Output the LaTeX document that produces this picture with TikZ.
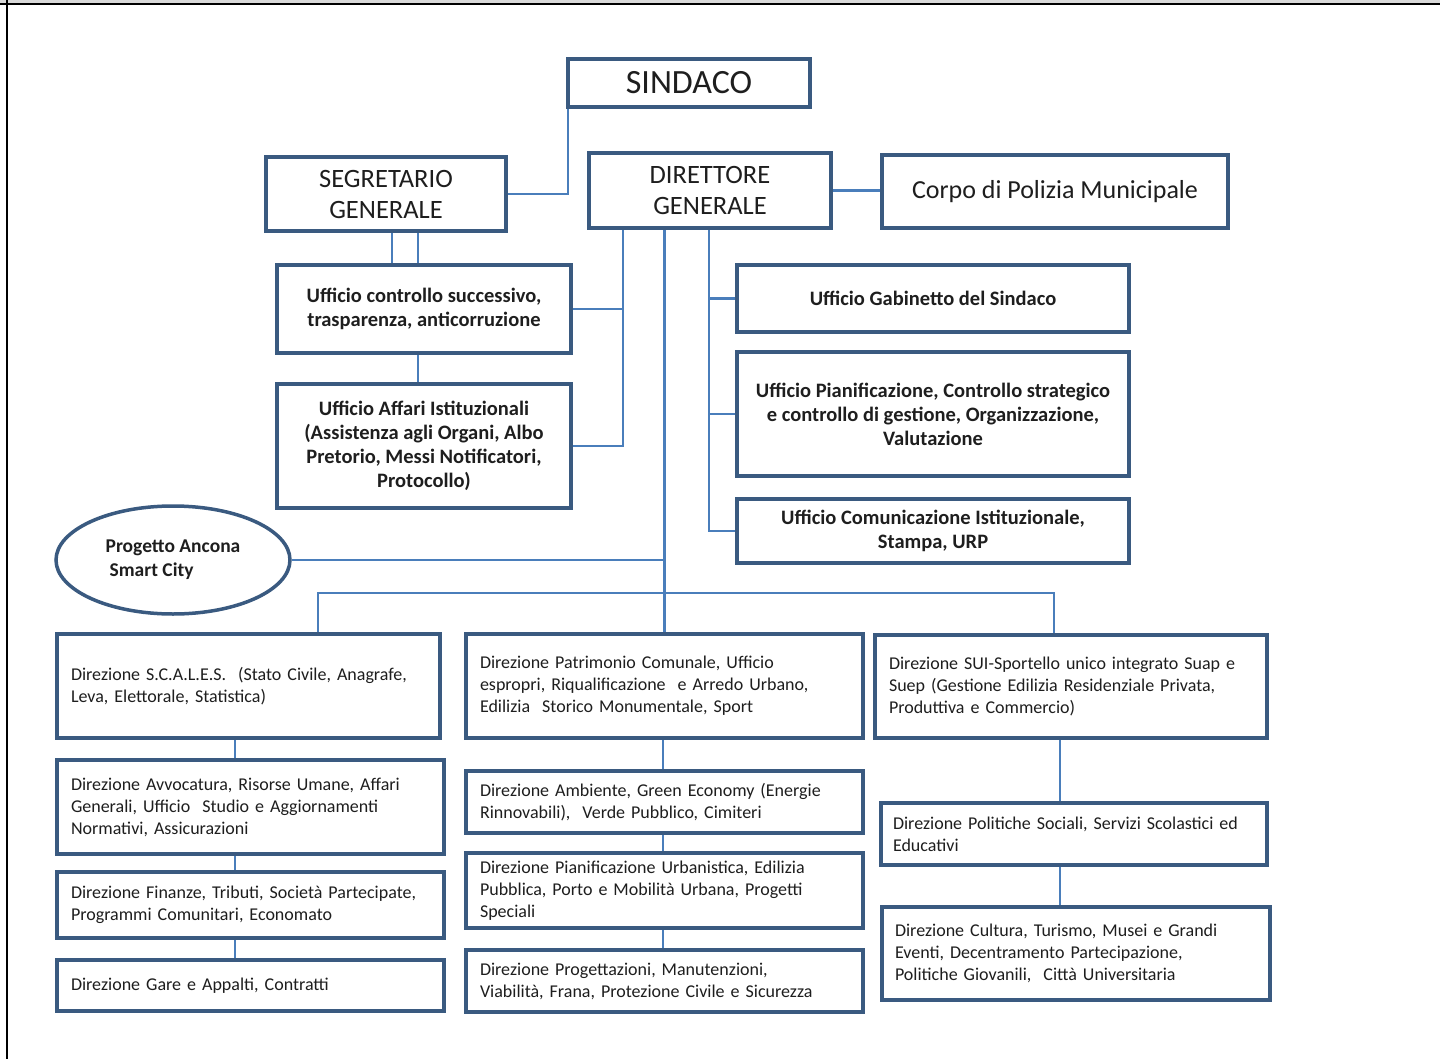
\documentclass[tikz,border=0pt]{standalone}
\usepackage{fontspec}
\setmainfont{Carlito}
\usetikzlibrary{shapes.geometric}
\definecolor{bord}{HTML}{3A5A80}
\definecolor{conn}{HTML}{4A7EBB}
\definecolor{txt}{HTML}{1E1E1E}
\pgfdeclarelayer{bg}
\pgfsetlayers{bg,main}
\tikzset{
  base/.style={draw=bord, line width=4pt, fill=white, text=txt, inner sep=0pt},
  title/.style={base, font=\fontsize{26.5}{31}\selectfont, align=center},
  uff/.style={base, font=\bfseries\fontsize{20.5}{24}\selectfont, align=center},
  dirz/.style={base, font=\fontsize{18}{22}\selectfont, align=left, inner xsep=14pt},
  link/.style={draw=conn, line width=2.5pt},
}
\begin{document}
\begin{tikzpicture}[x=1pt,y=-1pt]
\useasboundingbox (0,0) rectangle (1440,1059);
% titles
\node[title, minimum width=242pt, minimum height=48pt, font=\fontsize{34}{38}\selectfont] (sind) at (689,83) {SINDACO};
\node[title, minimum width=240pt, minimum height=74pt] (segr) at (386,194) {SEGRETARIO\\GENERALE};
\node[title, minimum width=242pt, minimum height=75pt] (dir) at (710,190.5) {DIRETTORE\\GENERALE};
\node[title, minimum width=346pt, minimum height=73pt, font=\fontsize{26}{31}\selectfont] (corpo) at (1055,191.5) {Corpo di Polizia Municipale};
% uffici
\node[uff, minimum width=294pt, minimum height=88pt] (uc) at (424,309) {Ufficio controllo successivo,\\trasparenza, anticorruzione};
\node[uff, minimum width=294pt, minimum height=124pt] (ua) at (424,446) {Ufficio Affari Istituzionali\\(Assistenza agli Organi, Albo\\Pretorio, Messi Notificatori,\\Protocollo)};
\node[uff, minimum width=392pt, minimum height=67pt] (gab) at (933,298.5) {Ufficio Gabinetto del Sindaco};
\node[uff, minimum width=392pt, minimum height=124pt] (pian) at (933,414) {Ufficio Pianificazione, Controllo strategico\\e controllo di gestione, Organizzazione,\\Valutazione};
\node[uff, minimum width=392pt, minimum height=64pt] (com) at (933,531) {Ufficio Comunicazione Istituzionale,\\Stampa, URP};
% progetto
\node[ellipse, draw=bord, line width=3.5pt, fill=white, text=txt, inner sep=0pt, minimum width=234pt, minimum height=108pt, align=left, font=\bfseries\fontsize{19.5}{24}\selectfont] (prog) at (173,560) {Progetto Ancona\\\hspace*{4pt}Smart City};
% direzioni left
\node[dirz, minimum width=383pt, minimum height=104pt, text width=355pt] (scales) at (248.5,686) {Direzione S.C.A.L.E.S.\ \ (Stato Civile, Anagrafe,\\Leva, Elettorale, Statistica)};
\node[dirz, minimum width=387pt, minimum height=94pt, text width=359pt] (avv) at (250.5,807) {Direzione Avvocatura, Risorse Umane, Affari\\Generali, Ufficio\ \ Studio e Aggiornamenti\\Normativi, Assicurazioni};
\node[dirz, minimum width=387pt, minimum height=66pt, text width=359pt] (fin) at (250.5,905) {Direzione Finanze, Tributi, Società Partecipate,\\Programmi Comunitari, Economato};
\node[dirz, minimum width=387pt, minimum height=51pt, text width=359pt] (gare) at (250.5,985.5) {Direzione Gare e Appalti, Contratti};
% direzioni middle
\node[dirz, minimum width=397pt, minimum height=104pt, text width=369pt] (pat) at (664.5,686) {Direzione Patrimonio Comunale, Ufficio\\espropri, Riqualificazione\ \ e Arredo Urbano,\\Edilizia\ \ Storico Monumentale, Sport};
\node[dirz, minimum width=397pt, minimum height=62pt, text width=369pt] (amb) at (664.5,802) {Direzione Ambiente, Green Economy (Energie\\Rinnovabili),\ \ Verde Pubblico, Cimiteri};
\node[dirz, minimum width=397pt, minimum height=75pt, text width=369pt] (pu) at (664.5,890.5) {Direzione Pianificazione Urbanistica, Edilizia\\Pubblica, Porto e Mobilità Urbana, Progetti\\Speciali};
\node[dirz, minimum width=397pt, minimum height=62pt, text width=369pt] (prg) at (664.5,981) {Direzione Progettazioni, Manutenzioni,\\Viabilità, Frana, Protezione Civile e Sicurezza};
% direzioni right
\node[dirz, minimum width=392pt, minimum height=103pt, text width=364pt] (sui) at (1071,686.5) {Direzione SUI-Sportello unico integrato Suap e\\Suep (Gestione Edilizia Residenziale Privata,\\Produttiva e Commercio)};
\node[dirz, minimum width=386pt, minimum height=62pt, text width=362pt, inner xsep=12pt] (pol) at (1074,834) {Direzione Politiche Sociali, Servizi Scolastici ed\\Educativi};
\node[dirz, minimum width=388pt, minimum height=93pt, text width=362pt, inner xsep=13pt] (cult) at (1076,953.5) {Direzione Cultura, Turismo, Musei e Grandi\\Eventi, Decentramento Partecipazione,\\Politiche Giovanili,\ \ Città Universitaria};
\coordinate (hub) at (664.5,593);
\begin{pgfonlayer}{bg}
\fill[white] (0,0) rectangle (1440,1059);
\fill[black!15] (0,0) rectangle (1440,3.5);
\draw[line width=2pt] (0,4.5) -- (1440,4.5);
\draw[line width=1.6pt] (7,0) -- (7,1059);
% connectors
\draw[link] ([xshift=2pt]sind.south west) |- (segr.east);
\draw[link] (dir.east) -- (dir.east -| corpo.west);
\draw[link] ([xshift=-32pt]uc.north |- segr.south) -- ([xshift=-32pt]uc.north);
\draw[link] ([xshift=-6pt]uc.north |- segr.south) -- ([xshift=-6pt]uc.north);
\draw[link] ([xshift=-6pt]uc.south) -- ([xshift=-6pt]ua.north);
\draw[link] (uc.east) -| ([xshift=-87pt]dir.south);
\draw[link] (ua.east) -| ([xshift=-87pt]dir.south);
\draw[link] ([xshift=-1pt]dir.south) |- (gab.west);
\draw[link] ([xshift=-1pt]dir.south) |- (pian.west);
\draw[link] ([xshift=-1pt]dir.south) |- (com.west);
\draw[link] (pat.north |- dir.south) -- (pat.north);
\draw[link] (prog.east) -- (prog.east -| pat.north);
\draw[link] ([xshift=69.5pt]scales.north) |- (hub) -| ([xshift=-17pt]sui.north);
\draw[link] ([xshift=-13.5pt]scales.south) -- ([xshift=-13.5pt]scales.south |- avv.north);
\draw[link] ([xshift=-15.5pt]avv.south) -- ([xshift=-15.5pt]fin.north);
\draw[link] ([xshift=-15.5pt]fin.south) -- ([xshift=-15.5pt]gare.north);
\draw[link] ([xshift=-1.5pt]pat.south) -- ([xshift=-1.5pt]amb.north);
\draw[link] ([xshift=-1.5pt]amb.south) -- ([xshift=-1.5pt]pu.north);
\draw[link] ([xshift=-1.5pt]pu.south) -- ([xshift=-1.5pt]prg.north);
\draw[link] ([xshift=-11pt]sui.south) -- ([xshift=-11pt]sui.south |- pol.north);
\draw[link] ([xshift=-14pt]pol.south) -- ([xshift=-14pt]pol.south |- cult.north);
\end{pgfonlayer}
\end{tikzpicture}
\end{document}
